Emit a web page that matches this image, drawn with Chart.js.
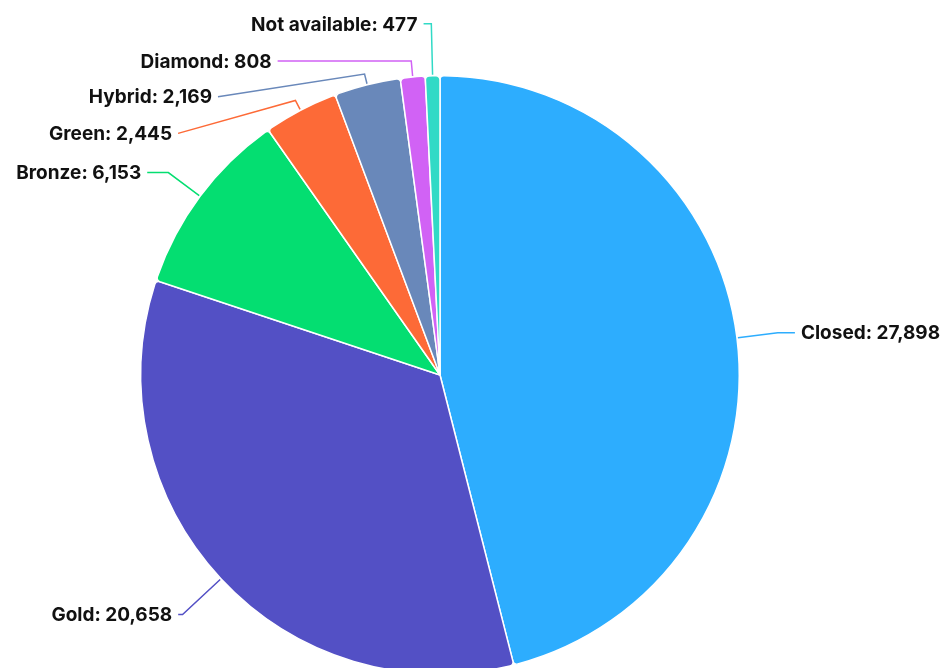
<!DOCTYPE html>
<html lang="en">
<head>
<meta charset="UTF-8">
<title>Pie chart</title>
<script src="https://cdn.jsdelivr.net/npm/chart.js"></script>
<style>
  html, body { margin: 0; padding: 0; background: #fff; overflow: hidden; }
  #wrap { width: 952px; height: 750px; position: relative; }
</style>
</head>
<body>
<div id="wrap"><canvas id="pieChart"></canvas></div>
<script>
// data
const categories = ['Closed', 'Gold', 'Bronze', 'Green', 'Hybrid', 'Diamond', 'Not available'];
const counts = [27898, 20658, 6153, 2445, 2169, 808, 477];
const sliceColors = ['#2dadfe', '#5350c5', '#04de71', '#fd6a37', '#6988ba', '#d162f5', '#31dac6'];

// where each label line ends, relative to the slice's outer edge point
const labelOffsets = [[57, -5], [-42, 35], [-52, -23], [-122, 24], [-149, 13], [-135, -15], [-9, -51]];

const calloutPlugin = {
    id: 'callouts',
    afterDatasetsDraw(chart) {
        const ctx = chart.ctx;
        const meta = chart.getDatasetMeta(0);
        ctx.save();
        ctx.font = 'bold 19px Inter, "Liberation Sans", sans-serif';
        ctx.textBaseline = 'middle';
        meta.data.forEach((arc, i) => {
            const mid = (arc.startAngle + arc.endAngle) / 2;
            const dx = Math.cos(mid), dy = Math.sin(mid);
            const r = arc.outerRadius + 1;
            const ax = arc.x + dx * r, ay = arc.y + dy * r;
            const ex = ax + labelOffsets[i][0], ey = ay + labelOffsets[i][1];
            // go out radially until the label's height (at least 10px)
            let len = 10;
            const need = (ey - ay) / dy;
            if (need > len && need < 80) len = need;
            const bx = ax + dx * len, by = ay + dy * len;

            ctx.strokeStyle = sliceColors[i];
            ctx.lineWidth = 1.5;
            ctx.beginPath();
            ctx.moveTo(ax, ay);
            ctx.lineTo(bx, by);
            ctx.lineTo(ex, ey);
            ctx.stroke();

            const right = ex > ax;
            ctx.fillStyle = '#111';
            ctx.textAlign = right ? 'left' : 'right';
            const text = categories[i] + ': ' + counts[i].toLocaleString('en-US');
            ctx.fillText(text, right ? ex + 6 : ex - 6, ey + 1);
        });
        ctx.restore();
    }
};

new Chart(document.getElementById('pieChart'), {
    type: 'pie',
    data: {
        labels: categories,
        datasets: [{
            data: counts,
            backgroundColor: sliceColors,
            borderColor: '#ffffff',
            borderWidth: 1.5,
            borderRadius: 4
        }]
    },
    options: {
        responsive: true,
        maintainAspectRatio: false,
        animation: false,
        layout: { padding: { left: 140, right: 212, top: 75, bottom: 75 } },
        plugins: {
            legend: { display: false },
            tooltip: { enabled: false }
        }
    },
    plugins: [calloutPlugin]
});
</script>
</body>
</html>
